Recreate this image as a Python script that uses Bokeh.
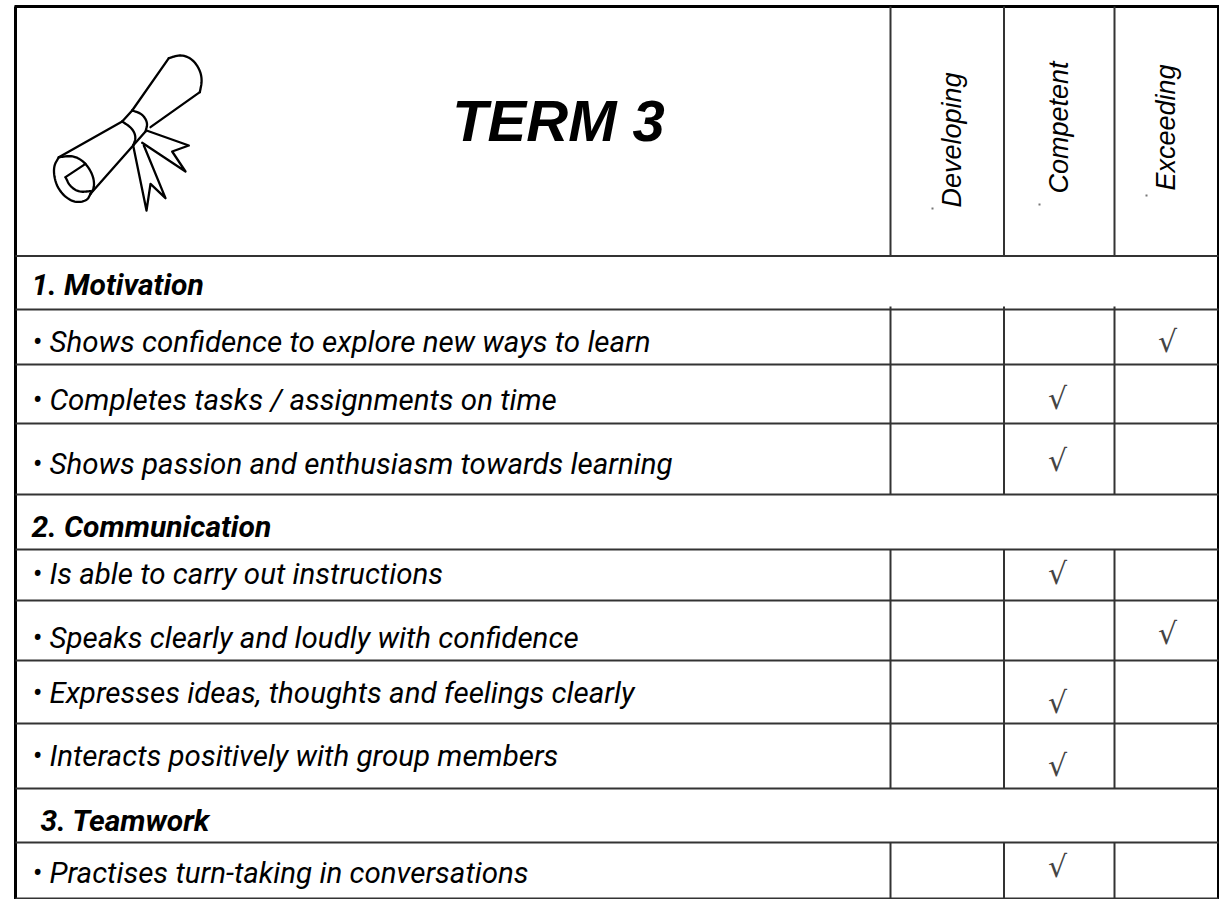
from bokeh.plotting import figure
from bokeh.embed import file_html
from bokeh.resources import INLINE
from bokeh.core.properties import value
from bokeh.models import Range1d

# ---- content
title = "TERM 3"
levels = ["Developing", "Competent", "Exceeding"]
sections = ["1. Motivation", "2. Communication", "3. Teamwork"]
items = [
    "• Shows confidence to explore new ways to learn",
    "• Completes tasks / assignments on time",
    "• Shows passion and enthusiasm towards learning",
    "• Is able to carry out instructions",
    "• Speaks clearly and loudly with confidence",
    "• Expresses ideas, thoughts and feelings clearly",
    "• Interacts positively with group members",
    "• Practises turn-taking in conversations",
]
ratings = [2, 1, 1, 1, 2, 1, 1, 1]   # index into levels

# ---- layout (page pixels)
FONT = "Roboto"
W, H = 1219, 899
L, R, T = 15, 1218, 6
col_x = [890, 1003.5, 1114]
head_bottom = 255.5
section_edges = [(255.5, 309), (494, 549), (788, 842)]
item_edges = [(309, 364), (364, 423), (423, 494), (549, 600), (600, 660),
              (660, 723), (723, 788), (842, 898)]
item_text_y = [341, 399, 463, 573, 637, 692, 755, 872]
item_text_x = [32] * 8
section_text = [(31, 284), (31, 526), (40, 820)]
check_x = [1057, 1167]
check_y = [341, 398, 460, 573, 633, 702, 765, 866]
level_pos = [(951, 207), (1058, 193), (1165, 190)]
specks = [(932, 208), (1039, 204), (1146, 195)]

p = figure(width=W, height=H, output_backend="svg", toolbar_location=None,
           x_range=Range1d(0, W), y_range=Range1d(H, 0),
           min_border=0, outline_line_color=None, background_fill_color="white")
p.axis.visible = False
p.grid.visible = False

# outer frame
p.multi_line([[L, L], [R, R], [L - 1, R + 2]], [[T, H], [T, H], [T, T]],
             line_color="black", line_width=3)

# horizontal rules
ys = sorted({e for pair in section_edges + item_edges for e in pair})
p.multi_line([[L, R]] * len(ys), [[y, y] for y in ys], line_color="#333333", line_width=2)

# vertical rules
spans = [(T, head_bottom), (306, 494), (549, 788), (842, H)]
xs_v, ys_v = [], []
for a, b in spans:
    for x in col_x:
        xs_v.append([x, x])
        ys_v.append([a, b])
p.multi_line(xs_v, ys_v, line_color="#333333", line_width=2)

# title
p.text([558], [120], text=[title], text_font=value("Liberation Sans"), text_font_style="bold italic",
       text_font_size="58px", text_align="center", text_baseline="middle", text_color="black")

# rotated headers
p.text([q[0] for q in level_pos], [q[1] for q in level_pos], text=levels,
       text_font=value("Liberation Sans"), text_font_style="italic", text_font_size="27px",
       angle=90, angle_units="deg", text_align="left", text_baseline="middle", text_color="black")
p.scatter([q[0] for q in specks], [q[1] for q in specks], marker="square", size=2,
          fill_color="#777777", line_color=None)

# sections
p.text([q[0] for q in section_text], [q[1] for q in section_text], text=sections,
       text_font=value(FONT), text_font_style="bold italic", text_font_size="30px",
       text_baseline="middle", text_color="black")

# items
p.text(item_text_x, item_text_y, text=items, text_font=value(FONT), text_font_style="italic",
       text_font_size="29.5px", text_baseline="middle", text_color="black")

# ticks
p.text([check_x[r - 1] for r in ratings], check_y, text=["√"] * len(ratings),
       text_font=value("DejaVu Sans"), text_font_size="30px", text_align="center",
       text_baseline="middle", text_color="#444444")


# scroll icon, traced at 3x around (40, 45)
def corner_cut(pts, rounds=3):
    for _ in range(rounds):
        out = [pts[0]]
        for a, b in zip(pts, pts[1:]):
            out.append((0.75 * a[0] + 0.25 * b[0], 0.75 * a[1] + 0.25 * b[1]))
            out.append((0.25 * a[0] + 0.75 * b[0], 0.25 * a[1] + 0.75 * b[1]))
        out.append(pts[-1])
        pts = out
    return pts


curved = [
    [(385, 38), (420, 27), (455, 40), (478, 72), (485, 105), (478, 140)],
    [(55, 335), (38, 365), (45, 415), (70, 452), (105, 472), (140, 465), (150, 445)],
    [(55, 335), (100, 330), (135, 352), (158, 390), (162, 425), (150, 445)],
    [(75, 395), (88, 422), (115, 440), (150, 437)],
    [(245, 228), (275, 248), (287, 275), (278, 300)],
    [(275, 195), (305, 205), (322, 232), (315, 258)],
]
straight = [
    [(275, 195), (385, 38)],
    [(478, 140), (330, 245)],
    [(245, 228), (55, 335)],
    [(245, 228), (275, 195)],
    [(278, 300), (150, 445)],
    [(135, 355), (75, 395)],
    [(278, 300), (315, 258)],
    [(318, 255), (445, 300), (395, 318), (435, 378), (305, 292)],
    [(278, 300), (318, 495), (330, 415), (375, 458), (310, 300)],
]
paths = [corner_cut(c) for c in curved] + straight
p.multi_line([[40 + q[0] / 3 for q in s] for s in paths],
             [[45 + q[1] / 3 for q in s] for s in paths],
             line_color="black", line_width=2.3, line_join="round", line_cap="round")

open("out.html", "w").write(file_html(p, INLINE))
